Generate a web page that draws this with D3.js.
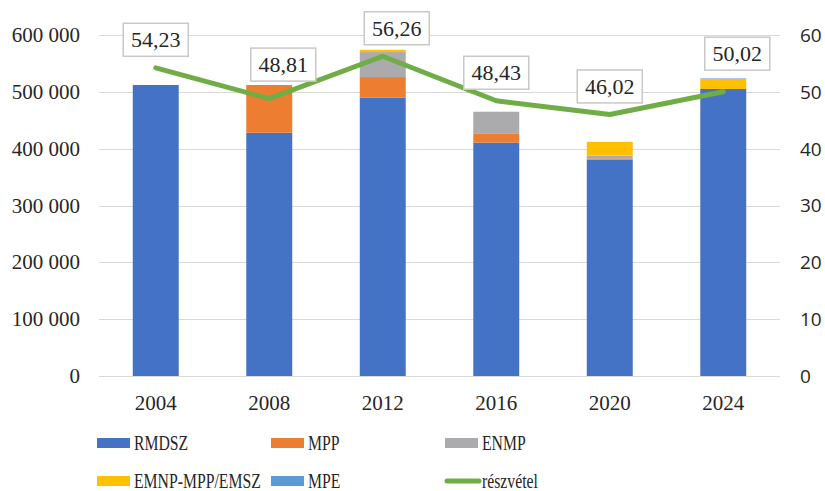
<!DOCTYPE html>
<html lang="hu">
<head>
<meta charset="utf-8">
<title>RMDSZ szavazatok</title>
<script src="https://cdn.jsdelivr.net/npm/d3@7"></script>
<style>
  body { margin: 0; background: white; }
  svg { display: block; }
  .serif { font-family: "Liberation Serif", "Times New Roman", serif; fill: #262626; }
  .sans { font-family: "Open Sans", "Noto Sans", sans-serif; fill: #262626; }
</style>
</head>
<body>
<svg id="chart" width="825" height="491"></svg>
<script>
// data
var years = ["2004", "2008", "2012", "2016", "2020", "2024"];
var rmdsz = [512000, 428000, 490000, 410500, 380500, 505000];
var mpp   = [0, 84000, 36000, 16500, 2500, 0];
var enmp  = [0, 0, 44000, 38000, 5000, 0];
var emnp  = [0, 0, 4000, 0, 24000, 17000];
var mpe   = [0, 0, 0, 0, 0, 1500];
var turnout = [54.23, 48.81, 56.26, 48.43, 46.02, 50.02];
var leftTicks = [0, 100000, 200000, 300000, 400000, 500000, 600000];
var rightTicks = [0, 10, 20, 30, 40, 50, 60];

var series = [
  {name: "RMDSZ", values: rmdsz, color: "#4472C4"},
  {name: "MPP", values: mpp, color: "#ED7D31"},
  {name: "ENMP", values: enmp, color: "#ABABAE"},
  {name: "EMNP-MPP/EMSZ", values: emnp, color: "#FFC000"},
  {name: "MPE", values: mpe, color: "#5B9BD5"}
];

// label nudges (excel labels were dragged by hand)
var labelDx = [0, 14, 14, 0, 0, 14];
var labelDy = [0, -6, 0, 0, 0, -10];

var svg = d3.select("#chart");
var plotLeft = 99, plotRight = 780, plotTop = 35, plotBottom = 376;

var x = d3.scaleBand().domain(years).range([plotLeft, plotRight])
  .paddingInner(0.595).paddingOuter(0.2975);
var y = d3.scaleLinear().domain([0, 600000]).range([plotBottom, plotTop]);
var y2 = d3.scaleLinear().domain([0, 60]).range([plotBottom, plotTop]);

// gridlines
svg.append("g").selectAll("line").data(leftTicks).enter().append("line")
  .attr("x1", plotLeft).attr("x2", plotRight)
  .attr("y1", function(d) { return Math.round(y(d)) + 0.5; })
  .attr("y2", function(d) { return Math.round(y(d)) + 0.5; })
  .attr("stroke", "#D9D9D9").attr("stroke-width", 1);

// left axis labels
svg.append("g").selectAll("text").data(leftTicks).enter().append("text")
  .attr("class", "serif")
  .attr("x", 80).attr("y", function(d) { return y(d); })
  .attr("dy", "0.34em")
  .attr("text-anchor", "end")
  .style("font-size", "21px")
  .text(function(d) { return d === 0 ? "0" : d3.format(",")(d).replace(/,/g, " "); });

// right axis labels
svg.append("g").selectAll("text").data(rightTicks).enter().append("text")
  .attr("class", "sans")
  .attr("x", 800).attr("y", function(d) { return y2(d); })
  .attr("dy", "0.36em")
  .style("font-size", "19px")
  .text(function(d) { return d; });

// x labels
svg.append("g").selectAll("text").data(years).enter().append("text")
  .attr("class", "serif")
  .attr("x", function(d) { return x(d) + x.bandwidth() / 2; })
  .attr("y", 410)
  .attr("text-anchor", "middle")
  .style("font-size", "21px")
  .text(function(d) { return d; });

// stacked bars
var table = years.map(function(yr, i) {
  var row = {year: yr};
  series.forEach(function(s) { row[s.name] = s.values[i]; });
  return row;
});
var stack = d3.stack().keys(series.map(function(s) { return s.name; }))(table);

svg.append("g").selectAll("g").data(stack).enter().append("g")
  .attr("fill", function(d, i) { return series[i].color; })
  .selectAll("rect").data(function(d) { return d; }).enter().append("rect")
  .attr("x", function(d) { return x(d.data.year); })
  .attr("width", x.bandwidth())
  .attr("y", function(d) { return y(d[1]); })
  .attr("height", function(d) { return y(d[0]) - y(d[1]); });

// turnout line
var line = d3.line()
  .x(function(d, i) { return x(years[i]) + x.bandwidth() / 2; })
  .y(function(d) { return y2(d); });

svg.append("path").datum(turnout)
  .attr("d", line)
  .attr("fill", "none")
  .attr("stroke", "#70AD47")
  .attr("stroke-width", 5)
  .attr("stroke-linejoin", "round")
  .attr("stroke-linecap", "round");

// data labels in boxes
var labels = svg.append("g").selectAll("g").data(turnout).enter().append("g")
  .attr("transform", function(d, i) {
    var cx = x(years[i]) + x.bandwidth() / 2 + labelDx[i];
    var cy = y2(d) - 28 + labelDy[i];
    return "translate(" + cx + "," + cy + ")";
  });
labels.append("rect")
  .attr("x", -32.5).attr("y", -16.5).attr("width", 65).attr("height", 33)
  .attr("fill", "white").attr("stroke", "#C8C8C8").attr("stroke-width", 1.5);
labels.append("text")
  .attr("class", "serif")
  .attr("text-anchor", "middle")
  .attr("dy", "0.35em")
  .style("font-size", "22px")
  .text(function(d) { return d3.format(".2f")(d).replace(".", ","); });

// legend
var legendItems = series.map(function(s) { return {name: s.name, color: s.color, type: "rect"}; });
legendItems.push({name: "részvétel", color: "#70AD47", type: "line"});
var legendX = [97, 271, 445];
var legendY = [443, 481];

var leg = svg.append("g").selectAll("g").data(legendItems).enter().append("g")
  .attr("transform", function(d, i) {
    return "translate(" + legendX[i % 3] + "," + legendY[Math.floor(i / 3)] + ")";
  });
leg.filter(function(d) { return d.type === "rect"; }).append("rect")
  .attr("x", 0).attr("y", -5).attr("width", 33).attr("height", 10)
  .attr("fill", function(d) { return d.color; });
leg.filter(function(d) { return d.type === "line"; }).append("line")
  .attr("x1", 2).attr("x2", 34).attr("y1", 0).attr("y2", 0)
  .attr("stroke", function(d) { return d.color; })
  .attr("stroke-width", 5).attr("stroke-linecap", "round");
leg.append("text")
  .attr("class", "serif")
  .attr("transform", "translate(37,0) scale(0.75,1)")
  .attr("dy", "0.35em")
  .style("font-size", "21px")
  .text(function(d) { return d.name; });
</script>
</body>
</html>
